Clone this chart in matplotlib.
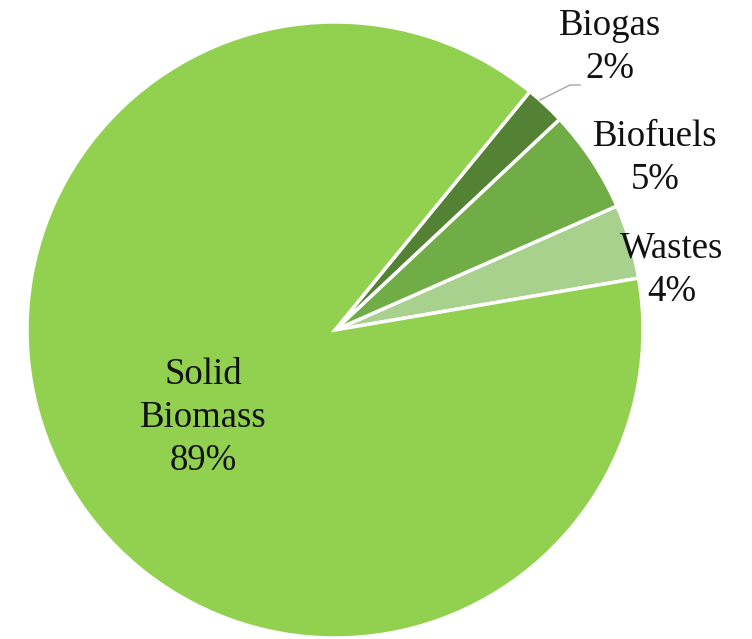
import matplotlib.pyplot as plt

# Bioenergy mix (share, %)
categories = ['Wastes', 'Biofuels', 'Biogas', 'Solid\nBiomass']
shares = [3.9, 5.4, 2.1, 88.6]
colors = ['#A9D18E', '#70AD47', '#548235', '#92D050']

fig = plt.figure(figsize=(7.52, 6.39), dpi=100)
ax = fig.add_axes([0.0, 0.0, 1.0, 1.0])

W, H = 752, 639
cx, cy, r = 335, 330, 308


def px(x, y):
    # pixel (from top-left) -> data units, pie radius = 1
    return (x - cx) / r, (cy - y) / r


wedges, _ = ax.pie(shares, colors=colors, startangle=9.7, counterclock=True,
                   radius=1.0, center=(0, 0),
                   wedgeprops=dict(edgecolor='white', linewidth=2.5))

ax.set_xlim(px(0, 0)[0], px(W, 0)[0])
ax.set_ylim(px(0, H)[1], px(0, 0)[1])
ax.set_aspect('equal')
ax.axis('off')

label_pos = [(672, 270), (655, 158), (610, 47), (203, 418)]
font = dict(family='Liberation Serif', size=26.5, color='#111111')
for name, val, (lx, ly) in zip(categories, shares, label_pos):
    x, y = px(lx, ly)
    ax.text(x, y, f'{name}\n{round(val):.0f}%', ha='center', va='center',
            linespacing=1.32, **font)

# leader line for Biogas
lx = [px(540, 100)[0], px(570, 85)[0], px(580, 85)[0]]
ly = [px(540, 100)[1], px(570, 85)[1], px(580, 85)[1]]
ax.plot(lx, ly, color='#a6a6a6', linewidth=1)

fig.savefig('out.png', dpi=100)
